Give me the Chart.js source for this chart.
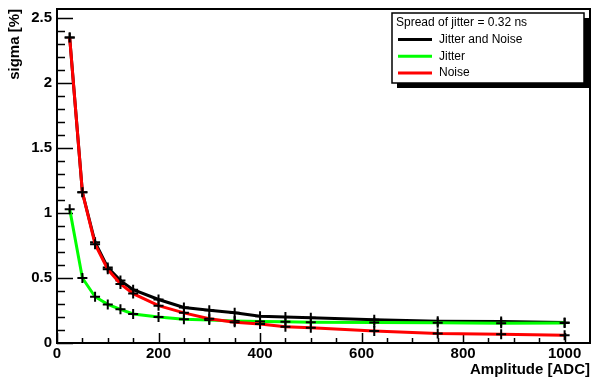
<!DOCTYPE html>
<html>
<head>
<meta charset="utf-8">
<script src="https://cdn.jsdelivr.net/npm/chart.js@4.4.1/dist/chart.umd.min.js"></script>
<style>
  html, body { margin: 0; padding: 0; background: #fff; }
  canvas { display: block; }
</style>
</head>
<body>
<canvas id="chart" width="592" height="383"></canvas>
<script>
const amplitudes = [25, 50, 75, 100, 125, 150, 200, 250, 300, 350, 400, 450, 500, 625, 750, 875, 1000];
const jitterAndNoise = [2.35, 1.16, 0.775, 0.58, 0.48, 0.41, 0.335, 0.273, 0.252, 0.232, 0.205, 0.2, 0.195, 0.178, 0.168, 0.165, 0.158];
const jitter = [1.03, 0.5, 0.356, 0.297, 0.259, 0.223, 0.2, 0.182, 0.177, 0.17, 0.165, 0.163, 0.16, 0.157, 0.155, 0.152, 0.153];
const noise = [2.35, 1.16, 0.76, 0.567, 0.454, 0.38, 0.287, 0.232, 0.186, 0.16, 0.146, 0.125, 0.118, 0.092, 0.074, 0.067, 0.059];
const xTicks = [0, 200, 400, 600, 800, 1000];
const yTicks = [0, 0.5, 1, 1.5, 2, 2.5];
const legendTitle = 'Spread of jitter = 0.32 ns';

const FONT = 'Liberation Sans, Arial, Helvetica, sans-serif';

function toPoints(values) {
    return amplitudes.map((a, i) => ({ x: a, y: values[i] }));
}

function series(label, values, color, order) {
    return {
        label,
        data: toPoints(values),
        borderColor: color,
        borderWidth: 3,
        order,
        pointStyle: 'cross',
        pointRadius: 5,
        pointBorderColor: '#000',
        pointBorderWidth: 2,
        pointBackgroundColor: '#000',
        tension: 0,
        fill: false
    };
}

// cadre + graduations a la ROOT (vers l'interieur)
const rootFrame = {
    id: 'rootFrame',
    beforeDatasetsDraw(chart) {
        const { ctx, chartArea: a, scales: { x, y } } = chart;
        ctx.save();
        ctx.strokeStyle = '#000';
        ctx.lineWidth = 2;
        ctx.strokeRect(a.left, a.top, a.right - a.left, a.bottom - a.top);

        ctx.lineWidth = 1.5;
        ctx.beginPath();
        for (let k = 0; k * 50 < x.max; k++) {
            const px = Math.round(x.getPixelForValue(k * 50)) + 0.5;
            const len = k % 4 === 0 ? 10 : 5;
            ctx.moveTo(px, a.bottom);
            ctx.lineTo(px, a.bottom - len);
        }
        for (let k = 0; k * 0.1 < y.max; k++) {
            const py = Math.round(y.getPixelForValue(k * 0.1)) + 0.5;
            const len = k % 5 === 0 ? 16 : 8;
            ctx.moveTo(a.left, py);
            ctx.lineTo(a.left + len, py);
        }
        ctx.stroke();
        ctx.restore();
    }
};

// legende encadree avec ombre
const rootLegend = {
    id: 'rootLegend',
    afterDraw(chart) {
        const ctx = chart.ctx;
        const box = { x: 392, y: 13, w: 192, h: 70 };
        ctx.save();
        ctx.fillStyle = '#000';
        ctx.fillRect(box.x + 5, box.y + 5, box.w, box.h);
        ctx.fillStyle = '#fff';
        ctx.fillRect(box.x, box.y, box.w, box.h);
        ctx.strokeStyle = '#000';
        ctx.lineWidth = 1.5;
        ctx.strokeRect(box.x, box.y, box.w, box.h);

        ctx.font = '12px ' + FONT;
        ctx.fillStyle = '#000';
        ctx.textBaseline = 'middle';
        ctx.fillText(legendTitle, box.x + 4, box.y + 10);

        chart.data.datasets.forEach((ds, i) => {
            const cy = box.y + 26.5 + i * 16.8;
            ctx.strokeStyle = ds.borderColor;
            ctx.lineWidth = 3;
            ctx.beginPath();
            ctx.moveTo(box.x + 6, cy);
            ctx.lineTo(box.x + 40, cy);
            ctx.stroke();
            ctx.fillStyle = '#000';
            ctx.fillText(ds.label, box.x + 47, cy);
        });
        ctx.restore();
    }
};

const tickFont = { family: FONT, weight: 'bold', size: 15 };

new Chart(document.getElementById('chart'), {
    type: 'line',
    data: {
        datasets: [
            series('Jitter and Noise', jitterAndNoise, '#000000', 2),
            series('Jitter', jitter, '#00ff00', 1),
            series('Noise', noise, '#ff0000', 0)
        ]
    },
    options: {
        responsive: false,
        animation: false,
        layout: { autoPadding: false, padding: { top: 9, right: 2, left: 0, bottom: 0 } },
        plugins: { legend: { display: false }, tooltip: { enabled: false } },
        scales: {
            x: {
                type: 'linear',
                min: 0,
                max: 1050,
                afterFit(s) { s.height = 40; s.paddingLeft = 0; s.paddingRight = 0; },
                afterBuildTicks(s) { s.ticks = xTicks.map(v => ({ value: v })); },
                grid: { display: false, drawTicks: false },
                border: { display: false },
                ticks: {
                    font: tickFont, color: '#000', padding: 2, maxRotation: 0, autoSkip: false,
                    callback: v => String(v)
                },
                title: {
                    display: true, text: 'Amplitude [ADC]', align: 'end', color: '#000',
                    font: tickFont, padding: { top: 0, bottom: 4 }
                }
            },
            y: {
                type: 'linear',
                min: 0,
                max: 2.57,
                afterFit(s) { s.width = 57; s.paddingTop = 0; s.paddingBottom = 0; },
                afterBuildTicks(s) { s.ticks = yTicks.map(v => ({ value: v })); },
                grid: { display: false, drawTicks: false },
                border: { display: false },
                ticks: {
                    font: tickFont, color: '#000', padding: 5, autoSkip: false,
                    callback: v => String(v)
                },
                title: {
                    display: true, text: 'sigma [%]', align: 'end', color: '#000',
                    font: tickFont, padding: { top: 6, bottom: 0 }
                }
            }
        }
    },
    plugins: [rootFrame, rootLegend]
});
</script>
</body>
</html>
